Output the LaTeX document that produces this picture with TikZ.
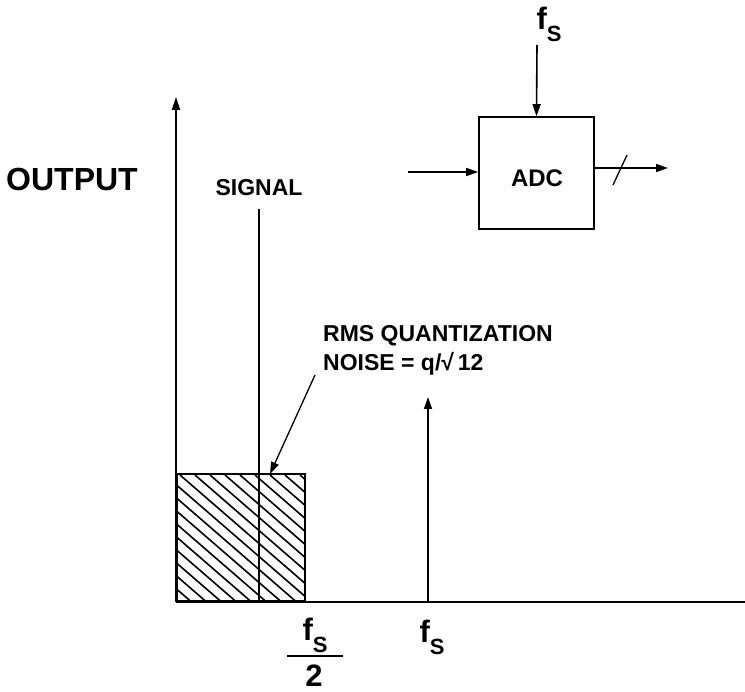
\documentclass[tikz,border=0pt]{standalone}
\usepackage{fontspec}
\setmainfont{Liberation Sans}
\usetikzlibrary{arrows.meta}
\tikzset{
  lbl/.style={font=\bfseries\fontsize{23}{29}\selectfont, inner sep=0pt},
  big/.style={font=\bfseries\fontsize{32}{36}\selectfont, inner sep=0pt},
  fsl/.style={font=\bfseries\fontsize{31}{34}\selectfont, inner sep=0pt},
  ax/.style={line width=1.8pt, -{Triangle[length=13pt,width=8pt]}},
  thin/.style={line width=1.4pt},
  tip/.style={line width=1.6pt, -{Triangle[length=12pt,width=8pt]}},
}
\newcommand{\fsym}{f\raisebox{-0.38em}{\fontsize{22}{22}\selectfont S}}
\begin{document}
\begin{tikzpicture}[x=1pt,y=-1pt]
\useasboundingbox (0,0) rectangle (745,692);
% coordinates
\coordinate (o) at (176,602);
\coordinate (ytop) at (176,97);
\coordinate (xend) at (745,602);
% hatched rectangle
\begin{scope}
\clip (176,475) rectangle (304,602);
\foreach \i in {-12,...,12} {
  \draw[line width=1.6pt] (180+15*\i,475) -- ++(150,130);
}
\end{scope}
\node[draw, line width=1.6pt, minimum width=128pt, minimum height=127pt, inner sep=0pt, anchor=south west] (noise) at (176,602) {};
% axes
\draw[ax] (o) -- (ytop);
\draw[line width=1.8pt] (o) -- (xend);
% signal line
\node[lbl] (signal) at (259,188) {SIGNAL};
\coordinate (sigbot) at (259,602);
\draw[thin] (259,209) -- (sigbot);
% fs line
\coordinate (fsbot) at (428,602);
\coordinate (fstop) at (428,397);
\draw[tip] (fsbot) -- (fstop);
% labels
\node[big, anchor=west] (output) at (6,179) {OUTPUT};
\node[lbl, anchor=west, align=left] (rms) at (323,350) {RMS QUANTIZATION\\NOISE = q/√\,12};
\coordinate (leadtail) at (315,375);
\coordinate (leadtip) at (270,474);
\draw[tip, line width=1.3pt] (leadtail) -- (leadtip);
% bottom labels
\node[fsl] (fs) at (432,637) {\fsym};
\node[fsl] (fsh) at (315,635) {\fsym};
\draw[line width=2pt] (287,656) -- (343,656);
\node[fsl] (two) at (314,676) {2};
% ADC
\node[draw, line width=1.6pt, minimum width=115pt, minimum height=112pt, inner sep=0pt] (adc) at (536.5,173) {};
\node[font=\bfseries\fontsize{24}{26}\selectfont, inner sep=0pt] (adclbl) at (537,178) {ADC};
\node[fsl] (fstoplbl) at (549,24) {\fsym};
\coordinate (clk) at (537,45);
\draw[tip] (clk) -- (adc.north);
\coordinate (inp) at (408,172);
\draw[tip] (inp) -- (inp -| adc.west);
\coordinate (outp) at (668,168);
\draw[tip] (adc.east |- outp) -- (outp);
\draw[line width=1.3pt] (613,185) -- (627,155);
\end{tikzpicture}
\end{document}
